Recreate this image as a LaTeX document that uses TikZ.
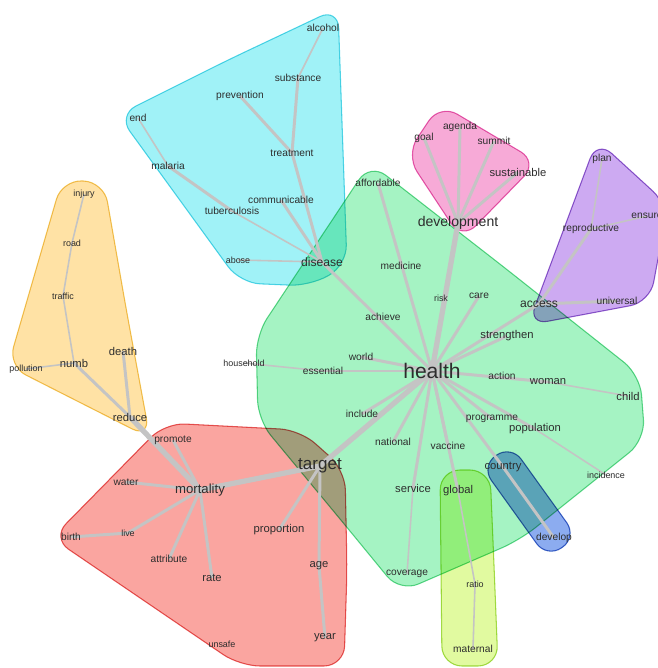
\documentclass[tikz,border=0pt]{standalone}
\usepackage{fontspec}
\setmainfont{Liberation Sans}
\definecolor{wordgray}{RGB}{45,45,45}
\definecolor{edgegray}{RGB}{196,196,196}
\definecolor{cyanfill}{RGB}{160,242,247}
\definecolor{cyanline}{RGB}{90,215,232}
\definecolor{yellowfill}{RGB}{255,226,165}
\definecolor{yellowline}{RGB}{240,200,90}
\definecolor{pinkfill}{RGB}{247,170,215}
\definecolor{pinkline}{RGB}{230,100,180}
\definecolor{purplefill}{RGB}{205,170,242}
\definecolor{purpleline}{RGB}{150,100,205}
\definecolor{greenfill}{RGB}{165,243,195}
\definecolor{greenline}{RGB}{100,215,145}
\definecolor{redfill}{RGB}{250,165,160}
\definecolor{redline}{RGB}{230,95,95}
\definecolor{bluefill}{RGB}{140,172,240}
\definecolor{blueline}{RGB}{70,110,200}
\definecolor{limefill}{RGB}{225,250,160}
\definecolor{limeline}{RGB}{170,220,80}
\pgfdeclarelayer{hulls}
\pgfdeclarelayer{edges}
\pgfsetlayers{hulls,edges,main}
\tikzset{
  word/.style={text=wordgray, inner sep=0pt, font=\fontsize{6.4}{7}\selectfont},
  tinyword/.style={word, font=\fontsize{5.1}{6}\selectfont},
  smallword/.style={word, font=\fontsize{5.8}{6.5}\selectfont},
  midword/.style={word, font=\fontsize{6.9}{8}\selectfont},
  hull/.style={rounded corners=0.4cm, line width=0.6pt, blend mode=multiply},
  thinedge/.style={draw=edgegray, line width=0.9pt},
  midedge/.style={draw=edgegray, line width=1.7pt},
  thickedge/.style={draw=edgegray, line width=3pt}
}
\newcommand{\placewords}[2] {
  \foreach \w/\x/\y in {#2} {
    \node[#1] (\w) at (\x,\y) {\w};
  }
}
\newcommand{\drawedges}[2] {
  \begin{pgfonlayer}{edges}
    \foreach \a/\b in {#2} {
      \draw[#1] (\a.center) -- (\b.center);
    }
  \end{pgfonlayer}
}
\newcommand{\drawhull}[4][] {
  \begin{pgfonlayer}{hulls}
    \draw[hull, #1, fill=#2, draw=#3] #4 -- cycle;
  \end{pgfonlayer}
}

\begin{document}
\begin{tikzpicture}[x=0.02cm, y=-0.02cm]
  \useasboundingbox (0,0) rectangle (657,668);
  % clusters (each path starts halfway along a side)
  \drawhull{greenfill}{greenline}{(505,268) -- (640,375) -- (645,440) -- (520,540) -- (400,592) -- (345,525) -- (258,420) -- (256,335) -- (370,163)}
  \drawhull{cyanfill}{cyanline}{(228,60) -- (338,8) -- (347,265) -- (310,286) -- (240,283) -- (118,115)}
  \drawhull{yellowfill}{yellowline}{(126,308) -- (150,438) -- (8,366) -- (62,180) -- (104,182)}
  \drawhull{pinkfill}{pinkline}{(489,133) -- (538,162) -- (462,240) -- (406,155) -- (440,104)}
  \drawhull{purplefill}{purpleline}{(659,253.5) -- (650,302) -- (528,325) -- (597,140) -- (668,205)}
  \drawhull{redfill}{redline}{(347,570) -- (344,666) -- (240,666) -- (52,538) -- (165,423) -- (300,430) -- (345,470)}
  \drawhull[rounded corners=0.35cm]{bluefill}{blueline}{(544,491) -- (577,537) -- (547,558) -- (481,466) -- (511,445)}
  \drawhull{limefill}{limeline}{(494,565) -- (498,666) -- (442,666) -- (440,470) -- (490,470)}
  % words
  \node[word, font=\fontsize{12}{14}\selectfont] (health) at (432,371) {health};
  \node[word, font=\fontsize{9.7}{11}\selectfont] (target) at (320,466) {target};
  \node[word, font=\fontsize{8}{9}\selectfont] (development) at (458,223) {development};
  \node[word, font=\fontsize{7.5}{8.5}\selectfont] (mortality) at (200,490) {mortality};
  \placewords{midword}{disease/322/262, access/539/304}
  \placewords{word}{strengthen/507/336, woman/548/382, child/628/396, population/535/429,
    death/123/351, numb/74/363, reduce/130/417, country/503/467, global/458/491,
    service/413/488, sustainable/518/172, proportion/279/530, age/319/566, year/325/638,
    rate/212/578}
  \placewords{smallword}{alcohol/323/28, substance/298/78, prevention/240/96, end/138/118,
    treatment/292/153, malaria/168/166, communicable/281/200, tuberculosis/232/211,
    affordable/378/183, goal/424/138, agenda/460/127, summit/494/141, plan/602/159,
    reproductive/591/229, ensure/647/216, universal/617/301, medicine/401/266,
    care/479/296, achieve/383/317, world/361/357, essential/323/371, action/502/376,
    include/362/414, programme/492/419, national/393/442, vaccine/448/446,
    coverage/407/574, maternal/473/649, develop/554/538, promote/173/440,
    water/126/482, birth/71/537, attribute/169/559}
  \placewords{tinyword}{household/244/363, pollution/26/369, abose/238/260, unsafe/222/644,
    injury/84/194, road/72/243, traffic/63/296, ratio/475/584, live/128/533,
    incidence/606/475, risk/441/298}
  % links
  \drawedges{thickedge}{development/health, target/health, target/mortality, mortality/reduce}
  \drawedges{midedge}{substance/treatment, prevention/treatment, treatment/disease,
    malaria/tuberculosis, communicable/disease, disease/health, affordable/health,
    care/health, access/health, strengthen/health, world/health, essential/health,
    health/woman, include/health, national/health, service/health, vaccine/health,
    global/health, programme/health, country/health, country/develop, population/health,
    goal/development, agenda/development, summit/development, sustainable/development,
    reproductive/access, universal/access, target/proportion, target/age, age/year,
    mortality/promote, mortality/water, mortality/live, live/birth, mortality/attribute,
    mortality/rate, reduce/numb, reduce/death}
  \drawedges{thinedge}{alcohol/substance, end/malaria, tuberculosis/disease, abose/disease,
    household/essential, woman/child, coverage/service, global/ratio, ratio/maternal,
    incidence/population, plan/reproductive, ensure/reproductive, numb/pollution,
    numb/traffic, traffic/road, road/injury}
\end{tikzpicture}
\end{document}
